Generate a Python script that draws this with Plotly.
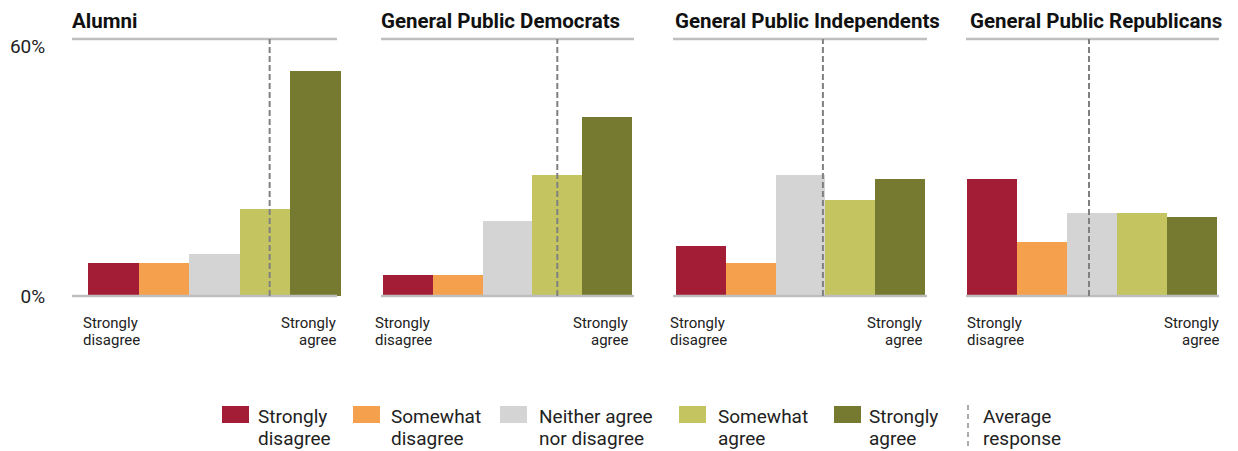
import plotly.graph_objects as go

# ---------------- data ----------------
groups = ["Alumni", "General Public Democrats", "General Public Independents", "General Public Republicans"]
responses = ["Strongly disagree", "Somewhat disagree", "Neither agree nor disagree", "Somewhat agree", "Strongly agree"]
legend_lines = [("Strongly", "disagree"), ("Somewhat", "disagree"), ("Neither agree", "nor disagree"),
                ("Somewhat", "agree"), ("Strongly", "agree")]
scale_points = [1, 2, 3, 4, 5]
alumni = [8, 8, 10, 21, 54]
democrats = [5, 5, 18, 29, 43]
independents = [12, 8, 29, 23, 28]
republicans = [28, 13, 20, 20, 19]
avg_response = [4.09, 4.0, 3.45, 2.94]
y_tick_vals = [0, 60]
y_tick_text = ["0%", "60%"]

series = [alumni, democrats, independents, republicans]
colors = ["#A31D36", "#F4A04C", "#D3D4D3", "#C4C461", "#767A31"]

# ---------------- layout helpers (page has an 8px body margin) ----------------
W, H = 1238, 451
OFF = 8
def px(x):
    return (x - OFF) / W
def py(y):
    return 1 - (y - OFF) / H

# per panel: (line start, line end, bars start, bars end)
panels = [(72, 337, 88, 341), (381, 634, 383, 632), (673, 927, 676, 925), (966, 1219, 967, 1217)]
label_left = [82, 374, 669, 966]
label_right = [337, 629, 923, 1220]
title_x = [72, 381, 675, 970]
y_top_px, y_bot_px = 39, 296
y_max = (y_bot_px - y_top_px) / ((y_bot_px - 46) / 60.0)

fig = go.Figure()
shapes = []
annotations = []
font_family = "Roboto, 'Liberation Sans', Arial, sans-serif"
txt = "#222"

def add_text(text, x, y, anchor, size, bold=False):
    annotations.append(dict(text=f"<b>{text}</b>" if bold else text, xref="paper", yref="paper",
                            x=px(x), y=py(y), xanchor=anchor, yanchor="middle",
                            showarrow=False, borderpad=0,
                            font=dict(family=font_family, size=size, color="#111" if bold else txt)))

for i, (g, vals) in enumerate(zip(groups, series)):
    l0, l1, b0, b1 = panels[i]
    d0, d1 = min(l0, b0), max(l1, b1)
    w = (b1 - b0) / 5.0
    xr0 = 0.5 - (b0 - d0) / w
    xr1 = 5.5 + (d1 - b1) / w
    xa = "x" if i == 0 else f"x{i+1}"
    ya = "y" if i == 0 else f"y{i+1}"
    xk = "xaxis" if i == 0 else f"xaxis{i+1}"
    yk = "yaxis" if i == 0 else f"yaxis{i+1}"
    fig.add_trace(go.Bar(x=scale_points, y=vals, width=1.0,
                         marker=dict(color=colors, line=dict(width=0)),
                         hovertext=responses, name=g, showlegend=False,
                         xaxis=xa, yaxis=ya))
    fig.update_layout({
        xk: dict(domain=[px(d0), px(d1)], range=[xr0, xr1], visible=False,
                 fixedrange=True, automargin=False),
        yk: dict(domain=[py(y_bot_px), py(y_top_px)], range=[0, y_max],
                 showgrid=False, zeroline=False, showline=False,
                 tickvals=y_tick_vals, ticktext=y_tick_text,
                 showticklabels=(i == 0), ticks="outside" if i == 0 else "",
                 ticklen=22, tickcolor="rgba(0,0,0,0)",
                 tickfont=dict(family=font_family, size=19, color=txt),
                 anchor=xa, fixedrange=True, automargin=False),
    })
    for yy in (y_top_px, y_bot_px):
        shapes.append(dict(type="line", xref="paper", yref="paper",
                           x0=px(l0), x1=px(l1), y0=py(yy), y1=py(yy),
                           line=dict(color="#BEBEBE", width=2.5), layer="above"))
    shapes.append(dict(type="line", xref=xa, yref=f"{ya} domain",
                       x0=avg_response[i], x1=avg_response[i], y0=0, y1=1,
                       line=dict(color="#808080", width=2, dash="6px,3px"), layer="above"))
    add_text(g, title_x[i] - 1, 21, "left", 20.5, bold=True)
    add_text("Strongly", label_left[i], 323, "left", 15)
    add_text("disagree", label_left[i], 340, "left", 15)
    add_text("Strongly", label_right[i], 323, "right", 15)
    add_text("agree", label_right[i], 340, "right", 15)

# ---------------- custom legend ----------------
sw_x = [222, 353, 500, 679, 834]
tx_x = [257, 390, 538, 717, 868]
for c, (l1, l2), sx, tx in zip(colors, legend_lines, sw_x, tx_x):
    shapes.append(dict(type="rect", xref="paper", yref="paper",
                       x0=px(sx), x1=px(sx + 27), y0=py(423), y1=py(406),
                       fillcolor=c, line=dict(width=0)))
    add_text(l1, tx, 416, "left", 19)
    add_text(l2, tx, 438, "left", 19)
shapes.append(dict(type="line", xref="paper", yref="paper",
                   x0=px(968), x1=px(968), y0=py(405), y1=py(450),
                   line=dict(color="#909090", width=1.5, dash="5px,4px")))
add_text("Average", 982, 416, "left", 19)
add_text("response", 982, 438, "left", 19)

fig.update_layout(
    width=W, height=H,
    margin=dict(l=0, r=0, t=0, b=0, pad=0, autoexpand=False),
    paper_bgcolor="white", plot_bgcolor="white",
    bargap=0, showlegend=False,
    shapes=shapes, annotations=annotations,
    font=dict(family=font_family),
)

fig.write_html("out.html", config={"displayModeBar": False})
